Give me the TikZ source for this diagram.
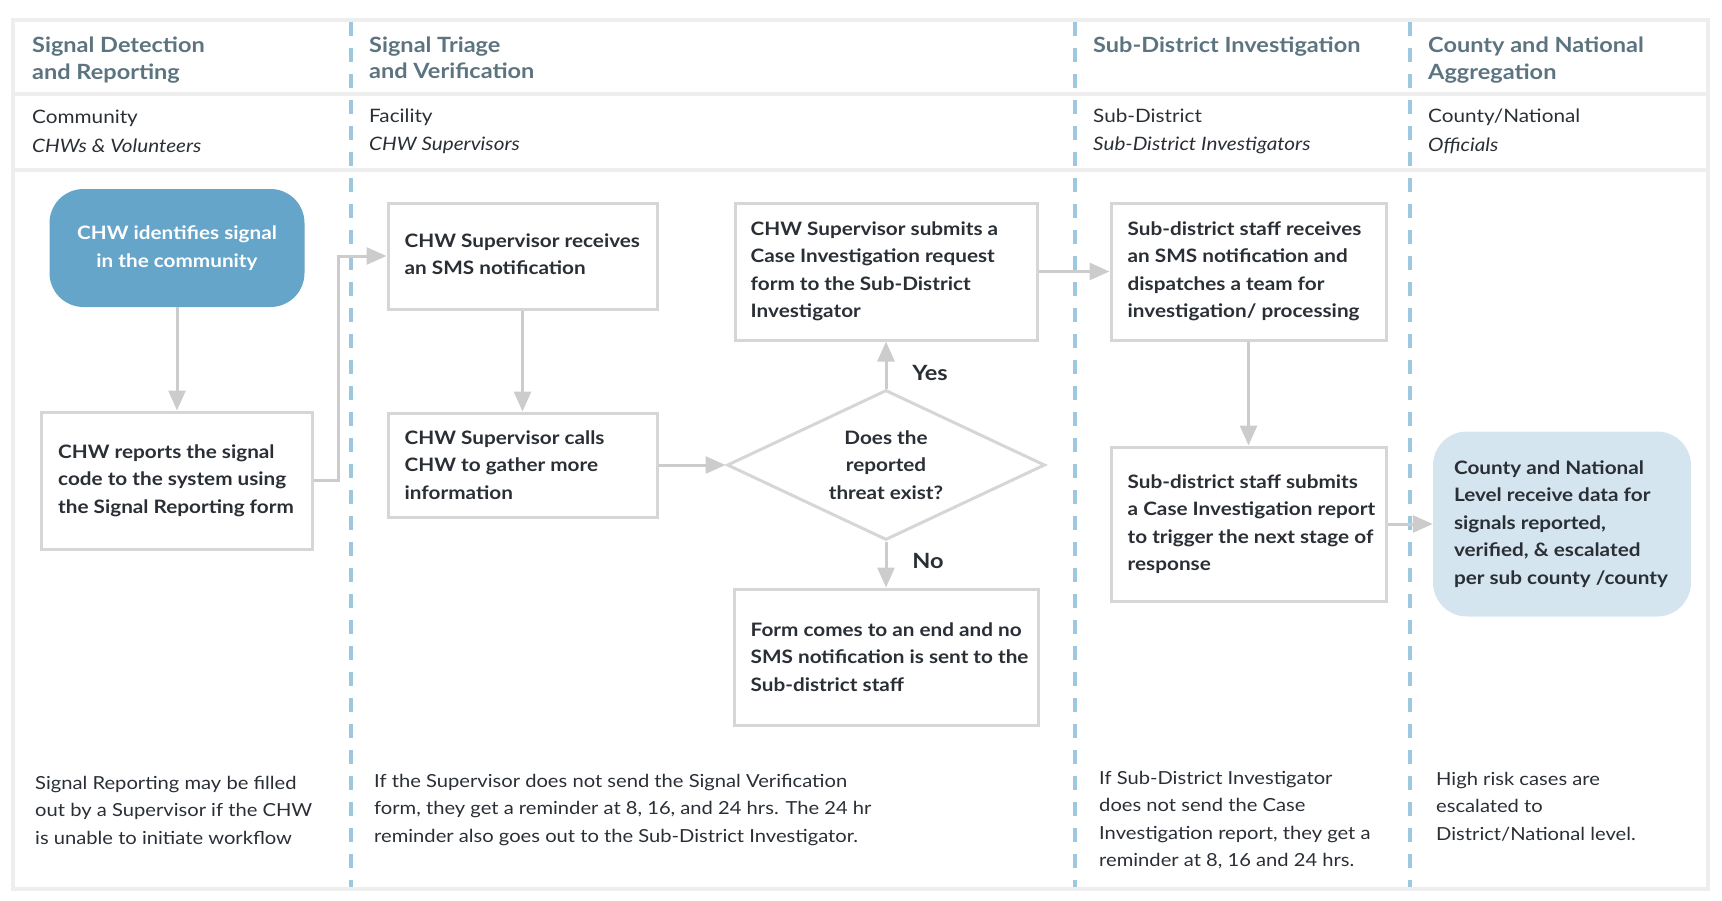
\documentclass[tikz,border=0pt]{standalone}
\usepackage{fontspec}
\setmainfont{Lato}[FakeStretch=1.12]
\usepackage{xcolor}
\usetikzlibrary{shapes.geometric,arrows.meta}

\definecolor{frameG}{HTML}{EEEEEE}
\definecolor{boxG}{HTML}{D6D6D6}
\definecolor{arrG}{HTML}{CCCCCC}
\definecolor{laneB}{HTML}{9DC8E0}
\definecolor{startB}{HTML}{64A5C9}
\definecolor{endB}{HTML}{D5E5EF}
\definecolor{hdrC}{HTML}{5C7480}
\definecolor{txtC}{HTML}{2A2F36}

\begin{document}
\begin{tikzpicture}[
      x=1pt, y=-1pt, >={Triangle[length=20pt,width=17pt]},
      frame/.style={draw=frameG,line width=3.5pt},
      lane/.style={draw=laneB,line width=3.5pt,dash pattern=on 14pt off 12pt},
      hdr/.style={anchor=west,align=left,inner sep=0pt,text=hdrC,font=\fontsize{21}{26.4}\selectfont\bfseries},
      lvl/.style={anchor=west,align=left,inner sep=0pt,text=txtC,font=\fontsize{18.5}{28.5}\selectfont},
      note/.style={anchor=west,align=left,inner sep=0pt,text=txtC,font=\fontsize{18}{27.5}\selectfont},
      stepbox/.style={draw=boxG,line width=3pt,fill=white,rectangle,inner sep=0pt},
      startbox/.style={fill=startB,rounded corners=34pt,inner sep=0pt,align=center,text=white,font=\fontsize{18.5}{27.5}\selectfont\bfseries},
      endbox/.style={fill=endB,rounded corners=34pt,inner sep=0pt},
      boxtxt/.style={anchor=west,align=left,inner sep=0pt,text=txtC,font=\fontsize{18.5}{27.5}\selectfont\bfseries},
      choice/.style={diamond,draw=boxG,line width=3pt,fill=white,inner sep=0pt,shape aspect=2.12,
        minimum width=318pt,minimum height=150pt,align=center,text=txtC,font=\fontsize{18.5}{27.5}\selectfont\bfseries},
      flow/.style={->,draw=arrG,line width=3pt},
      tag/.style={inner sep=0pt,text=txtC,font=\fontsize{21}{24}\selectfont\bfseries}
  ]
      \useasboundingbox (0,0) rectangle (1722,900);

      % frame and lanes
      \draw[frame] (13,20) rectangle (1708,889);
      \draw[frame] (13,94) -- (1708,94);
      \draw[frame] (13,170) -- (1708,170);
      \foreach \x in {351,1075,1410}
        \draw[lane] (\x,22) -- (\x,887);

      % lane headers
      \node[hdr] (h1) at (32,60) {Signal Detection\\and Reporting};
      \node[hdr] (h2) at (369,58) {Signal Triage\\and Verification};
      \node[hdr] (h3) at (1093,47) {Sub-District Investigation};
      \node[hdr] (h4) at (1428,60) {County and National\\Aggregation};

      \node[lvl] (l1) at (32,131.5) {Community\\\textit{CHWs \& Volunteers}};
      \node[lvl] (l2) at (369,131.5) {Facility\\\textit{CHW Supervisors}};
      \node[lvl] (l3) at (1093,131.5) {Sub-District\\\textit{Sub-District Investigators}};
      \node[lvl] (l4) at (1428,131.5) {County/National\\\textit{Officials}};

      % steps
      \node[startbox,minimum width=255pt,minimum height=118pt] (sig) at (177,248) {CHW identifies signal\\in the community};
      \node[stepbox,minimum width=271pt,minimum height=137pt] (rep) at (177,480.5) {};
      \node[boxtxt] (repT) at ([xshift=18pt]rep.west) {CHW reports the signal\\code to the system using\\the Signal Reporting form};

      \node[stepbox,minimum width=269pt,minimum height=106pt] (rcv) at (522.5,256) {};
      \node[boxtxt] (rcvT) at ([xshift=18pt,yshift=2pt]rcv.west) {CHW Supervisor receives\\an SMS notification};
      \node[stepbox,minimum width=269pt,minimum height=104pt] (call) at (522.5,465) {};
      \node[boxtxt] (callT) at ([xshift=18pt]call.west) {CHW Supervisor calls\\CHW to gather more\\information};

      \node[choice] (dec) at (886,465) {Does the\\reported\\threat exist?};

      \node[stepbox,minimum width=302pt,minimum height=137pt] (inv) at (886,271.5) {};
      \node[boxtxt] (invT) at ([xshift=17pt]inv.west) {CHW Supervisor submits a\\Case Investigation request\\form to the Sub-District\\Investigator};
      \node[stepbox,minimum width=304pt,minimum height=136pt] (stop) at (886,657) {};
      \node[boxtxt] (stopT) at ([xshift=18pt]stop.west) {Form comes to an end and no\\SMS notification is sent to the\\Sub-district staff};

      \node[stepbox,minimum width=275pt,minimum height=137pt] (dsp) at (1248.5,271.5) {};
      \node[boxtxt] (dspT) at ([xshift=18pt]dsp.west) {Sub-district staff receives\\an SMS notification and\\dispatches a team for\\investigation/ processing};
      \node[stepbox,minimum width=275pt,minimum height=154pt] (rpt) at (1248.5,524) {};
      \node[boxtxt] (rptT) at ([xshift=18pt]rpt.west) {Sub-district staff submits\\a Case Investigation report\\to trigger the next stage of\\response};

      \node[endbox,minimum width=258pt,minimum height=185pt] (agg) at (1562,524) {};
      \node[boxtxt] (aggT) at ([xshift=21pt]agg.west) {County and National\\Level receive data for\\signals reported,\\verified, \& escalated\\per sub county /county};

      \node[tag] (yes) at (930,373) {Yes};
      \node[tag] (no) at (928,561) {No};

      % connectors
      \draw[flow] (sig) -- (rep);
      \draw[flow] (rep.east) -- ++(24,0) |- (rcv.west);
      \draw[flow] (rcv) -- (call);
      \draw[flow] (call) -- (dec);
      \draw[flow] (dec) -- (inv);
      \draw[flow] (dec) -- (stop);
      \draw[flow] (inv) -- (dsp);
      \draw[flow] (dsp) -- (rpt);
      \draw[flow] (rpt) -- (agg);

      % notes
      \node[note] (n1) at (35,810) {Signal Reporting may be filled\\out by a Supervisor if the CHW\\is unable to initiate workflow};
      \node[note] (n2) at (374,810) {If the Supervisor does not send the Signal Verification\\form, they get a reminder at 8, 16, and 24 hrs. The 24 hr\\reminder also goes out to the Sub-District Investigator.};
      \node[note] (n3) at (1099,820) {If Sub-District Investigator\\does not send the Case\\Investigation report, they get a\\reminder at 8, 16 and 24 hrs.};
      \node[note] (n4) at (1436,806.5) {High risk cases are\\escalated to\\District/National level.};
  \end{tikzpicture}
\end{document}
